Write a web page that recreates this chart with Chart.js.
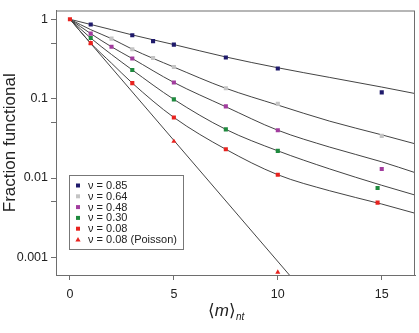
<!DOCTYPE html>
<html><head><meta charset="utf-8">
<script src="https://cdn.jsdelivr.net/npm/chart.js@4.4.1/dist/chart.umd.min.js"></script>
<style>html,body{margin:0;padding:0;background:#fff}#wrap{width:419px;height:333px}</style>
</head><body><div id="wrap"><canvas id="c" width="419" height="333"></canvas></div>
<script>
// ---- data ----
const seriesLabels = ['ν = 0.85','ν = 0.64','ν = 0.48','ν = 0.30','ν = 0.08','ν = 0.08 (Poisson)'];
const seriesColors = ['#1f1a6b','#c4c4c4','#a23c9e','#1f8a3e','#e8231f','#e8231f'];

const m085 = [1, 3, 4, 5, 7.5, 10, 15];
const f085 = [0.86, 0.63, 0.53, 0.48, 0.33, 0.24, 0.12];
const m064 = [2, 3, 4, 5, 7.5, 10, 15];
const f064 = [0.57, 0.42, 0.325, 0.25, 0.135, 0.086, 0.034];
const m048 = [1, 2, 3, 5, 7.5, 10, 15];
const f048 = [0.66, 0.45, 0.32, 0.16, 0.08, 0.04, 0.013];
const m030 = [1, 3, 5, 7.5, 10, 14.8];
const f030 = [0.58, 0.23, 0.098, 0.041, 0.022, 0.0075];
const m008 = [0, 1, 3, 5, 7.5, 10, 14.8];
const f008 = [1, 0.50, 0.157, 0.058, 0.023, 0.011, 0.0049];
const mPois = [1, 5, 10];
const fPois = [0.5, 0.029, 0.00065];

// fitted curves
const curveM = [0, 1, 2, 3, 5, 7.5, 10, 12.5, 15, 16.6];
const fit085 = [1, 0.86, 0.74, 0.635, 0.48, 0.335, 0.245, 0.185, 0.14, 0.116];
const fit064 = [1, 0.74, 0.57, 0.42, 0.25, 0.135, 0.083, 0.052, 0.035, 0.027];
const fit048 = [1, 0.66, 0.45, 0.32, 0.16, 0.079, 0.04, 0.0245, 0.016, 0.0117];
const fit030 = [1, 0.58, 0.36, 0.23, 0.098, 0.041, 0.022, 0.013, 0.0081, 0.0061];
const fit008 = [1, 0.50, 0.28, 0.157, 0.058, 0.023, 0.011, 0.0069, 0.0047, 0.0036];
const poisM = [0, 11];
const poisF = [1, 0.00044];

const xTicks = [0, 5, 10, 15];
const yTicks = [1, 0.5, 0.1, 0.05, 0.01, 0.005, 0.001];
const yLabeled = [1, 0.1, 0.01, 0.001];

const FONT = '"Liberation Sans", Arial, sans-serif';
const pts = (xs, ys) => xs.map((x, i) => ({x: x, y: ys[i]}));

function curve(xs, ys, mono) {
  return {data: pts(xs, ys), borderColor: '#444', borderWidth: 1, pointRadius: 0,
    cubicInterpolationMode: mono ? 'monotone' : 'default', tension: 0, showLine: true, order: 3, fill: false};
}
function marks(xs, ys, idx, style) {
  return {data: pts(xs, ys), showLine: false, pointStyle: style || 'rect', pointRadius: 2.9,
    backgroundColor: seriesColors[idx], borderColor: seriesColors[idx], borderWidth: 0, order: 1 + idx * 0.01};
}

const datasets = [
  curve(curveM, fit085, true), curve(curveM, fit064, true), curve(curveM, fit048, true),
  curve(curveM, fit030, true), curve(curveM, fit008, true), curve(poisM, poisF, false),
  marks(m085, f085, 0), marks(m064, f064, 1), marks(m048, f048, 2), marks(m030, f030, 3),
  marks(mPois, fPois, 5, 'triangle'), marks(m008, f008, 4)
];

const framePlugin = {
  id: 'frame',
  afterDraw(chart) {
    const {ctx, chartArea: a} = chart;
    ctx.save();
    ctx.strokeStyle = '#6e6e6e'; ctx.lineWidth = 1;
    ctx.strokeRect(a.left + 0.5, a.top + 0.5, a.right - a.left - 1, a.bottom - a.top);
    // legend
    const lx = 69.5, ly = 175.5, lw = 114, lh = 74;
    ctx.fillStyle = '#fff'; ctx.fillRect(lx, ly, lw, lh);
    ctx.strokeStyle = '#777'; ctx.strokeRect(lx, ly, lw, lh);
    ctx.font = '11px ' + FONT; ctx.textBaseline = 'middle'; ctx.textAlign = 'left';
    seriesLabels.forEach((t, i) => {
      const y = 185.5 + i * 10.8;
      ctx.fillStyle = seriesColors[i];
      if (i === 5) {
        ctx.beginPath(); ctx.moveTo(78, y - 2.6); ctx.lineTo(80.6, y + 2); ctx.lineTo(75.4, y + 2); ctx.closePath(); ctx.fill();
      } else {
        ctx.fillRect(76, y - 2, 4, 4);
      }
      ctx.fillStyle = '#222';
      ctx.fillText(t, 88, y + 0.5);
    });
    // x-axis title  <m>_nt
    const cy = 311;
    ctx.fillStyle = '#222'; ctx.textBaseline = 'alphabetic';
    const parts = [
      {t: '\u27E8', f: '17px ' + FONT, dy: 5},
      {t: 'm', f: 'italic 17px ' + FONT, dy: 5},
      {t: '\u27E9', f: '17px ' + FONT, dy: 5},
      {t: 'nt', f: 'italic 10px ' + FONT, dy: 9}
    ];
    let w = 0;
    parts.forEach(p => { ctx.font = p.f; p.w = ctx.measureText(p.t).width; w += p.w; });
    let x = 226 - w / 2;
    parts.forEach(p => { ctx.font = p.f; ctx.fillText(p.t, x, cy + p.dy); x += p.w; });
    ctx.restore();
  }
};

new Chart(document.getElementById('c'), {
  type: 'line',
  data: {datasets: datasets},
  options: {
    responsive: false, animation: false, parsing: true,
    layout: {padding: {top: 2, right: 4, left: 0, bottom: 0}},
    plugins: {legend: {display: false}, tooltip: {enabled: false}},
    scales: {
      x: {
        type: 'linear', min: -0.67, max: 16.6,
        afterBuildTicks: s => { s.ticks = xTicks.map(v => ({value: v})); },
        afterFit: s => { s.height = 58; },
        grid: {display: true, drawOnChartArea: false, drawTicks: true, tickLength: 5, color: '#6e6e6e'},
        border: {display: true, color: '#6e6e6e'},
        ticks: {color: '#222', font: {family: FONT, size: 12.5}, padding: 7, maxRotation: 0,
          callback: v => String(v)}
      },
      y: {
        type: 'logarithmic', min: 0.00062, max: 1.29,
        afterBuildTicks: s => { s.ticks = yTicks.map(v => ({value: v})); },
        afterFit: s => { s.width = 56; },
        grid: {display: true, drawOnChartArea: false, drawTicks: true, tickLength: 5, color: '#6e6e6e'},
        border: {display: true, color: '#6e6e6e'},
        title: {display: true, text: 'Fraction functional', color: '#222', font: {family: FONT, size: 17}, padding: {top: 0, bottom: 0}},
        ticks: {color: '#222', font: {family: FONT, size: 12.5}, padding: 3,
          callback: v => yLabeled.includes(v) ? String(v) : ''}
      }
    }
  },
  plugins: [framePlugin]
});
</script></body></html>
